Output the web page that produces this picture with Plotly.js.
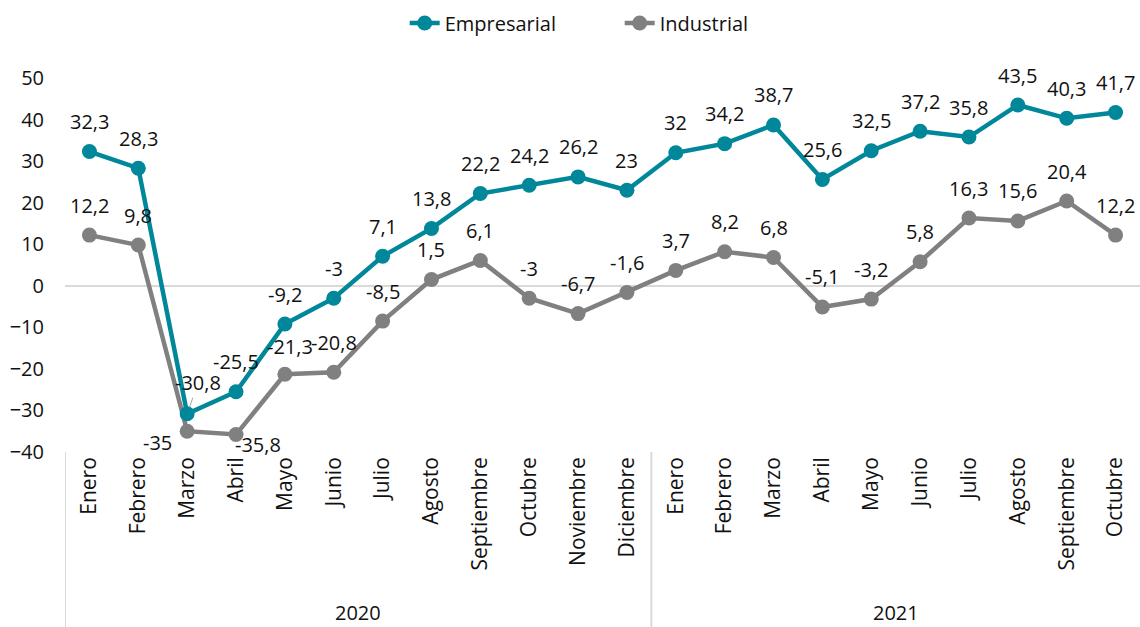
<!DOCTYPE html>
<html>
<head>
<meta charset="utf-8">
<script src="https://cdn.plot.ly/plotly-3.0.1.min.js"></script>
<style>
  html, body { margin: 0; padding: 0; background: #ffffff; }
  #chart { width: 1140px; height: 627px; }
</style>
</head>
<body>
<div id="chart"></div>
<script>
const months = ['Enero','Febrero','Marzo','Abril','Mayo','Junio','Julio','Agosto','Septiembre','Octubre','Noviembre','Diciembre',
                'Enero','Febrero','Marzo','Abril','Mayo','Junio','Julio','Agosto','Septiembre','Octubre'];
const years = ['2020','2020','2020','2020','2020','2020','2020','2020','2020','2020','2020','2020',
               '2021','2021','2021','2021','2021','2021','2021','2021','2021','2021'];
const empresarial = [32.3, 28.3, -30.8, -25.5, -9.2, -3, 7.1, 13.8, 22.2, 24.2, 26.2, 23,
                     32, 34.2, 38.7, 25.6, 32.5, 37.2, 35.8, 43.5, 40.3, 41.7];
const industrial = [12.2, 9.8, -35, -35.8, -21.3, -20.8, -8.5, 1.5, 6.1, -3, -6.7, -1.6,
                    3.7, 8.2, 6.8, -5.1, -3.2, 5.8, 16.3, 15.6, 20.4, 12.2];

const TEAL = '#00879A';
const GRAY = '#808080';
const FONT = '"Open Sans", "Noto Sans", sans-serif';
const TXT = '#111111';

const xIdx = months.map((_, i) => i);
const fmt = v => String(v).replace('.', ',');

const traces = [
  {
    name: 'Industrial', x: xIdx, y: industrial, type: 'scatter', mode: 'lines+markers',
    line: {color: GRAY, width: 4.5}, marker: {color: GRAY, size: 15}, hoverinfo: 'skip'
  },
  {
    name: 'Empresarial', x: xIdx, y: empresarial, type: 'scatter', mode: 'lines+markers',
    line: {color: TEAL, width: 4.5}, marker: {color: TEAL, size: 15}, hoverinfo: 'skip'
  }
];

const annotations = [];
// special label offsets (style only)
const empShift = {2: {xs: 11, ys: 31, arrow: true}};
const indShift = {2: {xs: -30, ys: -11}, 3: {xs: 22, ys: -10}, 4: {xs: 5, ys: 28}};

empresarial.forEach((v, i) => {
  const s = empShift[i] || {xs: 0, ys: 30};
  const a = {x: i, y: v, xref: 'x', yref: 'y', text: fmt(v),
    font: {family: FONT, size: 20, color: TXT}, showarrow: false,
    xshift: s.xs, yshift: s.ys};
  if (s.arrow) {
    a.showarrow = true; a.arrowhead = 0; a.arrowwidth = 1; a.arrowcolor = '#a6a6a6';
    a.ax = s.xs; a.ay = -s.ys; a.xshift = 0; a.yshift = 0; a.standoff = 7;
  }
  annotations.push(a);
});
industrial.forEach((v, i) => {
  const s = indShift[i] || {xs: 0, ys: 30};
  annotations.push({x: i, y: v, xref: 'x', yref: 'y', text: fmt(v),
    font: {family: FONT, size: 20, color: TXT}, showarrow: false,
    xshift: s.xs, yshift: s.ys});
});

// year group labels and dividers
const groups = [];
years.forEach((y, i) => {
  if (!groups.length || groups[groups.length - 1].name !== y) groups.push({name: y, start: i, end: i});
  else groups[groups.length - 1].end = i;
});
const shapes = [];
groups.forEach(g => {
  annotations.push({x: (g.start + g.end) / 2, y: -0.428, xref: 'x', yref: 'paper',
    text: g.name, showarrow: false, yanchor: 'middle', borderpad: 0,
    font: {family: FONT, size: 20, color: TXT}});
  shapes.push({type: 'line', xref: 'x', yref: 'paper', x0: g.start - 0.5, x1: g.start - 0.5,
    y0: 0, y1: -0.47, line: {color: '#d9d9d9', width: 2}});
});

const layout = {
  width: 1140, height: 627,
  margin: {l: 65, r: 0, t: 78, b: 175},
  paper_bgcolor: '#ffffff', plot_bgcolor: '#ffffff',
  font: {family: FONT, size: 20, color: TXT},
  showlegend: true,
  legend: {orientation: 'h', x: 0.516, xanchor: 'center', y: 1.147, yanchor: 'middle',
    traceorder: 'reversed', entrywidth: 170, font: {family: FONT, size: 20, color: TXT}, itemclick: false},
  xaxis: {
    range: [-0.5, months.length - 0.5], tickmode: 'array', tickvals: xIdx, ticktext: months,
    tickangle: -90, showgrid: false, zeroline: false, showline: false, ticks: '',
    tickfont: {family: FONT, size: 21, color: TXT}, fixedrange: true
  },
  yaxis: {
    range: [-40, 50], dtick: 10, tick0: 0, showgrid: false, showline: false, ticks: '',
    zeroline: true, zerolinecolor: '#d9d9d9', zerolinewidth: 2,
    ticklabelstandoff: 20,
    tickfont: {family: FONT, size: 20, color: TXT}, fixedrange: true
  },
  annotations: annotations,
  shapes: shapes
};

Plotly.newPlot('chart', traces, layout, {displayModeBar: false, staticPlot: true});
</script>
</body>
</html>
